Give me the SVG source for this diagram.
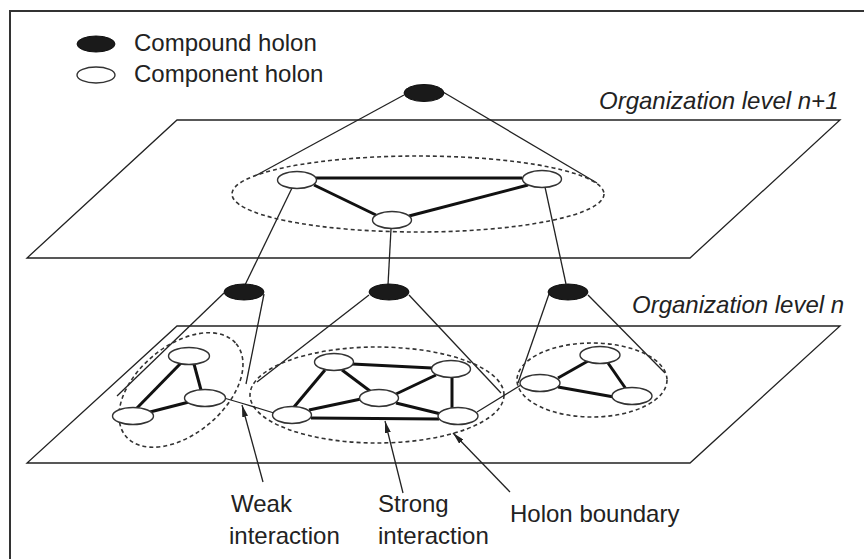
<svg xmlns="http://www.w3.org/2000/svg" width="864" height="559" viewBox="0 0 864 559">
<defs>
<style>
.frame{fill:none;stroke:#333;stroke-width:2}
.plane{fill:none;stroke:#222;stroke-width:1.3}
.thin{fill:none;stroke:#222;stroke-width:1.3}
.strong{fill:none;stroke:#111;stroke-width:3}
.bound{fill:none;stroke:#333;stroke-width:1.6;stroke-dasharray:4 3}
.comp{fill:#fff;stroke:#333;stroke-width:1.4}
.cmpd{fill:#1a1a1a;stroke:#111;stroke-width:1}
.lbl{font-family:"Liberation Sans",Arial,sans-serif;font-size:24px;fill:#222}
.lvl{font-family:"Liberation Sans",Arial,sans-serif;font-size:24px;font-style:italic;fill:#222}
</style>
<marker id="ah" viewBox="0 0 12 6" refX="12" refY="3" markerWidth="12" markerHeight="6" markerUnits="userSpaceOnUse" orient="auto">
<path d="M0,0 L12,3 L0,6 Z" fill="#222"/>
</marker>
</defs>
<rect width="864" height="559" fill="#fff"/>
<rect class="frame" x="10" y="11" width="880" height="580"/>

<g id="legend">
<ellipse class="cmpd" cx="96" cy="44" rx="19" ry="8"/>
<text class="lbl" x="134" y="51">Compound holon</text>
<ellipse class="comp" cx="96" cy="75" rx="19" ry="8"/>
<text class="lbl" x="134" y="82">Component holon</text>
</g>

<g id="plane-upper">
<polygon class="plane" points="177,120 840,120 690,258 27,258"/>
<text class="lvl" x="599" y="109">Organization level n+1</text>
</g>
<g id="plane-lower">
<polygon class="plane" points="177,326 840,326 690,463 27,463"/>
<text class="lvl" x="632" y="313">Organization level n</text>
</g>

<g id="connectors">
<!-- top cone -->
<line class="thin" x1="404" y1="95" x2="255" y2="176"/>
<line class="thin" x1="443" y1="92" x2="597" y2="183"/>
<!-- links between levels -->
<line class="thin" x1="292" y1="188" x2="245" y2="285"/>
<line class="thin" x1="391" y1="229" x2="388" y2="285"/>
<line class="thin" x1="545" y1="187" x2="566" y2="284"/>
<!-- lower cones -->
<line class="thin" x1="224" y1="293" x2="117" y2="396"/>
<line class="thin" x1="264" y1="294" x2="246" y2="384"/>
<line class="thin" x1="369" y1="295" x2="257" y2="382"/>
<line class="thin" x1="409" y1="295" x2="501" y2="393"/>
<line class="thin" x1="549" y1="294" x2="518" y2="383"/>
<line class="thin" x1="588" y1="295" x2="665" y2="373"/>
<!-- boundaries -->
<ellipse class="bound" cx="418" cy="194" rx="186" ry="38"/>
<ellipse class="bound" cx="181" cy="390" rx="72" ry="44" transform="rotate(-40 181 390)"/>
<ellipse class="bound" cx="377" cy="395" rx="127" ry="48"/>
<ellipse class="bound" cx="592" cy="380" rx="75" ry="37"/>
<!-- upper strong interactions -->
<line class="strong" x1="316" y1="178" x2="522" y2="178"/>
<line class="strong" x1="314" y1="185" x2="376" y2="215"/>
<line class="strong" x1="409" y1="216" x2="528" y2="185"/>
<!-- lower-left strong -->
<line class="strong" x1="181" y1="363" x2="136" y2="409"/>
<line class="strong" x1="194" y1="364" x2="201" y2="390"/>
<line class="strong" x1="150" y1="412" x2="189" y2="402"/>
<!-- middle strong -->
<line class="strong" x1="352" y1="364" x2="432" y2="368"/>
<line class="strong" x1="325" y1="370" x2="294" y2="407"/>
<line class="strong" x1="342" y1="370" x2="370" y2="391"/>
<line class="strong" x1="436" y1="375" x2="396" y2="394"/>
<line class="strong" x1="452" y1="377" x2="452" y2="408"/>
<line class="strong" x1="309" y1="410" x2="361" y2="399"/>
<line class="strong" x1="396" y1="403" x2="441" y2="414"/>
<line class="strong" x1="311" y1="418" x2="439" y2="419"/>
<!-- right strong -->
<line class="strong" x1="558" y1="378" x2="588" y2="361"/>
<line class="strong" x1="608" y1="363" x2="626" y2="389"/>
<line class="strong" x1="558" y1="387" x2="614" y2="397"/>
<!-- weak interactions -->
<polyline class="thin" points="224,398 241,403 274,413"/>
<line class="thin" x1="477" y1="412" x2="521" y2="385"/>
<!-- annotation arrows -->
<line class="thin" x1="263" y1="482" x2="242" y2="405" marker-end="url(#ah)"/>
<line class="thin" x1="403" y1="493" x2="385" y2="421" marker-end="url(#ah)"/>
<line class="thin" x1="510" y1="492" x2="453" y2="433" marker-end="url(#ah)"/>
</g>

<g id="compound-top"><ellipse class="cmpd" cx="424" cy="93" rx="20" ry="8.5"/></g>
<g id="compound-left"><ellipse class="cmpd" cx="244" cy="292" rx="20" ry="8"/></g>
<g id="compound-mid"><ellipse class="cmpd" cx="389" cy="292" rx="20" ry="8"/></g>
<g id="compound-right"><ellipse class="cmpd" cx="568" cy="292" rx="20" ry="8"/></g>

<g id="u1"><ellipse class="comp" cx="297" cy="180" rx="19.5" ry="8.5"/></g>
<g id="u2"><ellipse class="comp" cx="542" cy="179" rx="19.5" ry="8.5"/></g>
<g id="u3"><ellipse class="comp" cx="392" cy="220" rx="19.5" ry="8.5"/></g>

<g id="l1"><ellipse class="comp" cx="189" cy="356" rx="20.5" ry="8.5"/></g>
<g id="l2"><ellipse class="comp" cx="205" cy="398" rx="20.5" ry="8.5"/></g>
<g id="l3"><ellipse class="comp" cx="133" cy="416" rx="20.5" ry="8.5"/></g>

<g id="m1"><ellipse class="comp" cx="334" cy="362" rx="19.5" ry="8.5"/></g>
<g id="m2"><ellipse class="comp" cx="451" cy="369" rx="19.5" ry="8.5"/></g>
<g id="m3"><ellipse class="comp" cx="379" cy="398" rx="19.5" ry="8.5"/></g>
<g id="m4"><ellipse class="comp" cx="292" cy="415" rx="19.5" ry="8.5"/></g>
<g id="m5"><ellipse class="comp" cx="458" cy="416" rx="20" ry="8.5"/></g>

<g id="r1"><ellipse class="comp" cx="600" cy="355" rx="20" ry="8.5"/></g>
<g id="r2"><ellipse class="comp" cx="540" cy="383" rx="20" ry="8.5"/></g>
<g id="r3"><ellipse class="comp" cx="632" cy="396" rx="20" ry="8.5"/></g>

<g id="labels">
<text class="lbl" x="231" y="512">Weak</text>
<text class="lbl" x="229" y="544">interaction</text>
<text class="lbl" x="378" y="512">Strong</text>
<text class="lbl" x="378" y="544">interaction</text>
<text class="lbl" x="510" y="522">Holon boundary</text>
</g>
</svg>
